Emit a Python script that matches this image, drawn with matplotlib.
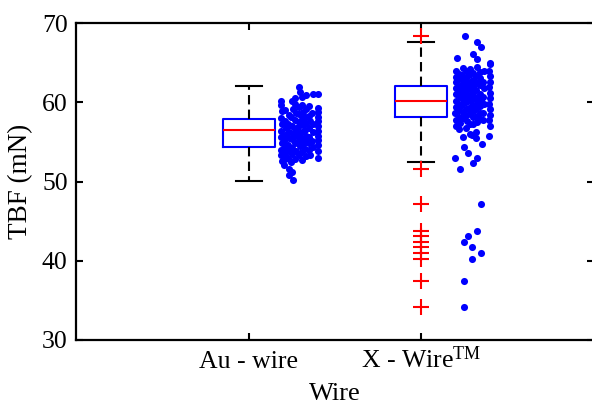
import numpy as np
import matplotlib
matplotlib.use("Agg")
import matplotlib.pyplot as plt

plt.rcParams["font.family"] = ["Liberation Serif", "DejaVu Serif"]
plt.rcParams["mathtext.fontset"] = "custom"
plt.rcParams["mathtext.rm"] = "Liberation Serif"
plt.rcParams["mathtext.it"] = "Liberation Serif:italic"

# ---- box statistics ----
groups = ["Au - wire", "X - Wire$^{\\mathrm{TM}}$"]
positions = [1, 2]
q1 = [54.4, 58.2]
medians = [56.5, 60.2]
q3 = [57.9, 62.0]
whisk_lo = [50.1, 52.4]
whisk_hi = [62.0, 67.6]
fliers_au = []
fliers_x = [68.3, 51.6, 47.1, 43.75, 43.1, 42.4, 41.7, 41.0, 40.2, 37.5, 34.2]

# ---- jittered raw points (Au - wire) ----
au_x = [1.190, 1.185, 1.192, 1.188, 1.191, 1.186, 1.190, 1.193, 1.187, 1.190, 1.192,
        1.212, 1.208, 1.214, 1.210, 1.206, 1.213, 1.209, 1.211, 1.207,
        1.232, 1.228, 1.231, 1.234, 1.229, 1.233, 1.230, 1.232, 1.236,
        1.250, 1.254, 1.248, 1.252, 1.255, 1.249, 1.251, 1.253, 1.247, 1.250, 1.254,
        1.271, 1.268, 1.273, 1.269, 1.272, 1.266, 1.270, 1.274, 1.268,
        1.292, 1.296, 1.289, 1.291, 1.294, 1.288, 1.293, 1.290, 1.295, 1.289,
        1.311, 1.308, 1.313, 1.309, 1.312, 1.307, 1.310, 1.314, 1.308, 1.311,
        1.330, 1.333, 1.329, 1.332, 1.328, 1.334, 1.331, 1.327, 1.333,
        1.351, 1.348, 1.353, 1.349, 1.352, 1.347, 1.350, 1.354,
        1.372, 1.369, 1.371, 1.374, 1.368, 1.372,
        1.401, 1.400, 1.402, 1.399, 1.401, 1.400, 1.402, 1.399, 1.401, 1.400, 1.402, 1.400]
au_y = [60.2, 59.6, 58.9, 58.0, 57.2, 56.4, 55.6, 54.8, 54.0, 53.3, 52.6,
        59.0, 57.6, 56.8, 55.9, 55.1, 54.4, 53.6, 52.8, 52.1,
        58.4, 57.3, 56.2, 55.5, 54.6, 53.9, 53.0, 51.6, 50.8,
        60.1, 59.2, 58.2, 57.0, 56.1, 55.3, 54.2, 53.5, 52.4, 51.2, 50.2,
        60.5, 59.8, 58.6, 57.8, 56.6, 55.7, 54.9, 53.8, 52.9,
        61.9, 61.3, 59.4, 58.5, 57.5, 56.9, 56.0, 55.2, 54.5, 53.4,
        60.6, 59.7, 58.8, 57.9, 57.1, 56.3, 55.4, 54.7, 53.7, 52.7,
        60.9, 59.1, 58.1, 57.4, 56.5, 55.8, 55.0, 54.1, 53.2,
        59.5, 58.3, 57.6, 56.7, 55.6, 54.8, 54.0, 53.3,
        61.0, 58.7, 57.2, 56.2, 55.1, 54.3,
        61.0, 59.3, 58.8, 58.2, 57.6, 57.0, 56.4, 55.8, 55.2, 54.6, 53.8, 53.0]

# ---- jittered raw points (X - Wire) ----
xw_x = [2.250, 2.320, 2.345, 2.300, 2.205, 2.325, 2.395,
        2.200, 2.203, 2.198, 2.201, 2.199, 2.202, 2.200, 2.197, 2.201, 2.199,
        2.221, 2.218, 2.222, 2.219, 2.223, 2.220, 2.217, 2.221, 2.222, 2.219,
        2.241, 2.238, 2.242, 2.239, 2.243, 2.240, 2.237, 2.241, 2.242, 2.239,
        2.261, 2.258, 2.262, 2.259, 2.263, 2.260, 2.257, 2.261, 2.262, 2.259,
        2.281, 2.278, 2.282, 2.279, 2.283, 2.280, 2.277, 2.281, 2.282, 2.279,
        2.301, 2.298, 2.302, 2.299, 2.303, 2.300, 2.297, 2.301, 2.302,
        2.321, 2.318, 2.322, 2.319, 2.323, 2.320, 2.317, 2.321, 2.322, 2.319,
        2.341, 2.338, 2.342, 2.339, 2.343, 2.340, 2.337, 2.341,
        2.361, 2.358, 2.362, 2.359, 2.363, 2.360, 2.357,
        2.395, 2.394, 2.396, 2.395, 2.394, 2.396, 2.395, 2.394, 2.396, 2.395, 2.394, 2.396,
        2.249, 2.197, 2.272, 2.300, 2.324, 2.353, 2.225, 2.393, 2.318, 2.295,
        2.347, 2.324, 2.272, 2.249, 2.295, 2.347, 2.295, 2.249, 2.249]
xw_y = [68.3, 67.6, 67.0, 66.1, 65.6, 65.5, 65.0,
        64.0, 63.2, 62.5, 61.8, 61.0, 60.2, 59.4, 58.6, 57.8, 57.0,
        63.6, 62.9, 62.1, 61.4, 60.6, 59.8, 59.0, 58.2, 57.4, 56.6,
        64.3, 63.4, 62.7, 61.9, 61.2, 60.4, 59.6, 58.8, 58.0, 55.6,
        63.9, 63.0, 62.3, 61.6, 60.8, 60.0, 59.2, 58.4, 57.6, 56.8,
        64.2, 63.5, 62.6, 61.7, 60.9, 60.1, 59.3, 58.5, 57.2, 56.0,
        63.7, 62.8, 62.0, 61.3, 60.5, 59.7, 58.9, 58.1, 57.3,
        64.5, 63.3, 62.4, 61.5, 60.7, 59.9, 59.1, 58.3, 57.5, 56.2,
        63.8, 63.1, 62.2, 61.1, 60.3, 59.5, 58.7, 57.9,
        64.0, 62.6, 61.8, 60.6, 59.8, 58.6, 57.7,
        64.8, 64.0, 63.3, 62.6, 61.9, 61.2, 60.5, 59.8, 59.1, 58.4, 57.7, 57.0,
        54.4, 53.0, 53.6, 52.3, 53.0, 54.7, 51.6, 55.7, 55.5, 55.9,
        47.1, 43.75, 43.1, 42.4, 41.7, 41.0, 40.2, 37.5, 34.2]

stats = []
for i in range(len(groups)):
    stats.append({
        "med": medians[i], "q1": q1[i], "q3": q3[i],
        "whislo": whisk_lo[i], "whishi": whisk_hi[i],
        "fliers": [fliers_au, fliers_x][i], "label": groups[i],
    })

fig = plt.figure(figsize=(5.92, 4.05), dpi=100)
ax = fig.add_axes([76 / 592, (405 - 340) / 405, (594 - 76) / 592, (340 - 23) / 405])

ax.bxp(stats, positions=positions, widths=0.3, capwidths=0.15,
       boxprops=dict(color="#0000ff", linewidth=1.5),
       medianprops=dict(color="#ff0000", linewidth=1.5),
       whiskerprops=dict(color="black", linewidth=1.5, linestyle=(0, (4.5, 2.5))),
       capprops=dict(color="black", linewidth=1.5),
       flierprops=dict(marker="+", markeredgecolor="#ff0000", markersize=12,
                       markeredgewidth=1.5, linestyle="none"))

ax.scatter(au_x, au_y, s=26, color="#0000ff", linewidths=0, zorder=3)
ax.scatter(xw_x, xw_y, s=26, color="#0000ff", linewidths=0, zorder=3)

ax.set_xlim(0, 3)
ax.set_ylim(30, 70)
ax.set_yticks([30, 40, 50, 60, 70])
ax.tick_params(direction="in", length=5, width=1.5, labelsize=18.5,
               top=True, right=True)
ax.tick_params(axis="x", pad=20)
ax.tick_params(axis="y", pad=6)
ax.set_xticks(positions)
ax.set_xticklabels(groups)
# share one baseline so the superscript doesn't push its label down
for lbl in ax.get_xticklabels():
    lbl.set_verticalalignment("baseline")
for sp in ax.spines.values():
    sp.set_linewidth(1.6)

ax.set_xlabel("Wire", fontsize=19)
ax.xaxis.set_label_coords(0.5, -(400 - 340) / 317)
ax.xaxis.label.set_verticalalignment("baseline")
ax.set_ylabel("TBF (mN)", fontsize=19.5, labelpad=6)

fig.savefig("out.png", dpi=100)
